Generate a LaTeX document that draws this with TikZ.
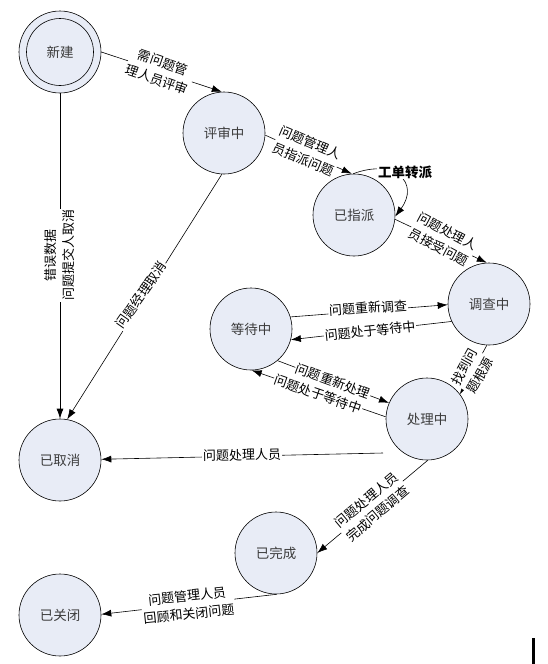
\documentclass[tikz,border=0pt]{standalone}
\usepackage{fontspec}
\setmainfont{Noto Sans CJK SC}
\usetikzlibrary{arrows.meta,calc}
\definecolor{nodefill}{RGB}{232,236,246}
\definecolor{nodetext}{RGB}{60,60,60}
\begin{document}
\begin{tikzpicture}[x=1pt,y=-1pt,
  state/.style={circle,draw=black,line width=0.6pt,fill=nodefill,minimum size=82pt,inner sep=0pt,
    font=\fontsize{13.5}{16}\selectfont,text=nodetext},
  conn/.style={line width=0.6pt,-{Latex[length=10pt,width=7pt]}},
  lbl/.style={fill=white,inner sep=1pt,align=center,font=\fontsize{13}{18}\selectfont,text=black}]
\useasboundingbox (0,0) rectangle (547,664);
% nodes
\node[state] (xj) at (60,52) {};
\draw[line width=0.6pt] (xj.center) circle[radius=33.5pt];
\node[text=nodetext,font=\fontsize{13.5}{16}\selectfont] (xjt) at (60,52) {新建};
\node[state] (ps) at (224,133) {评审中};
\node[state] (zp) at (354,215) {已指派};
\node[state] (dc) at (489,304) {调查中};
\node[state] (dd) at (251,329) {等待中};
\node[state] (cl) at (427,419) {处理中};
\node[state] (qx) at (60,460) {已取消};
\node[state] (wc) at (276,553) {已完成};
\node[state] (gb) at (60,615) {已关闭};
\coordinate (clw) at ($(cl.center)+(-44,34)$);
% connectors
\draw[conn] (xj.0) -- (ps.93);
\draw[conn] (ps.-3) -- (zp.93);
\draw[conn] (zp.91) .. controls (395,158) and (420,183) .. (zp.-2);
\draw[conn] (zp.-6) -- (dc.93);
\draw[conn] (dd.17) -- (dc.181);
\draw[conn] (dc.205) -- (dd.-15);
\draw[conn] (dd.-50) -- (cl.157);
\draw[conn] (cl.177) -- (dd.-89);
\draw[conn] (dc.-93) -- (cl.37);
\draw[conn] (clw) -- (qx.1);
\draw[conn] (cl.-89) -- (wc.0);
\draw[conn] (wc.-89) -- (gb.1);
\draw[conn] (xj.-90) -- (qx.90);
\draw[conn] (ps.-93) -- (qx.80);
% labels
\node[lbl,rotate=-19] (l1) at (160,71) {需问题管\\理人员评审};
\node[lbl,rotate=-23] (l2) at (307,151) {问题管理人\\员指派问题};
\node[lbl,font=\fontsize{13.5}{17}\selectfont\bfseries] (l3) at (405,172) {工单转派};
\node[lbl,rotate=-28] (l4) at (443,239) {问题处理人\\员接受问题};
\node[lbl,rotate=4] (l5) at (368,308) {问题重新调查};
\node[lbl,rotate=6] (l6) at (370,331) {问题处于等待中};
\node[lbl,rotate=-20] (l7) at (333,381) {问题重新处理};
\node[lbl,rotate=-19] (l8) at (318,394) {问题处于等待中};
\node[lbl,rotate=61] (l9) at (472,371) {找到问\\题根源};
\node[lbl,rotate=1] (l10) at (242,455) {问题处理人员};
\node[lbl,rotate=40] (l11) at (372,507) {问题处理人员\\完成问题调查};
\node[lbl,rotate=6] (l12) at (188,605) {问题管理人员\\回顾和关闭问题};
\node[lbl,rotate=90] (l13) at (60,255) {错误数据\\问题提交人取消};
\node[lbl,rotate=55] (l14) at (141,295) {问题经理取消};
% bar at bottom right
\fill[black] (532,638) rectangle (534.5,664);
\end{tikzpicture}
\end{document}
